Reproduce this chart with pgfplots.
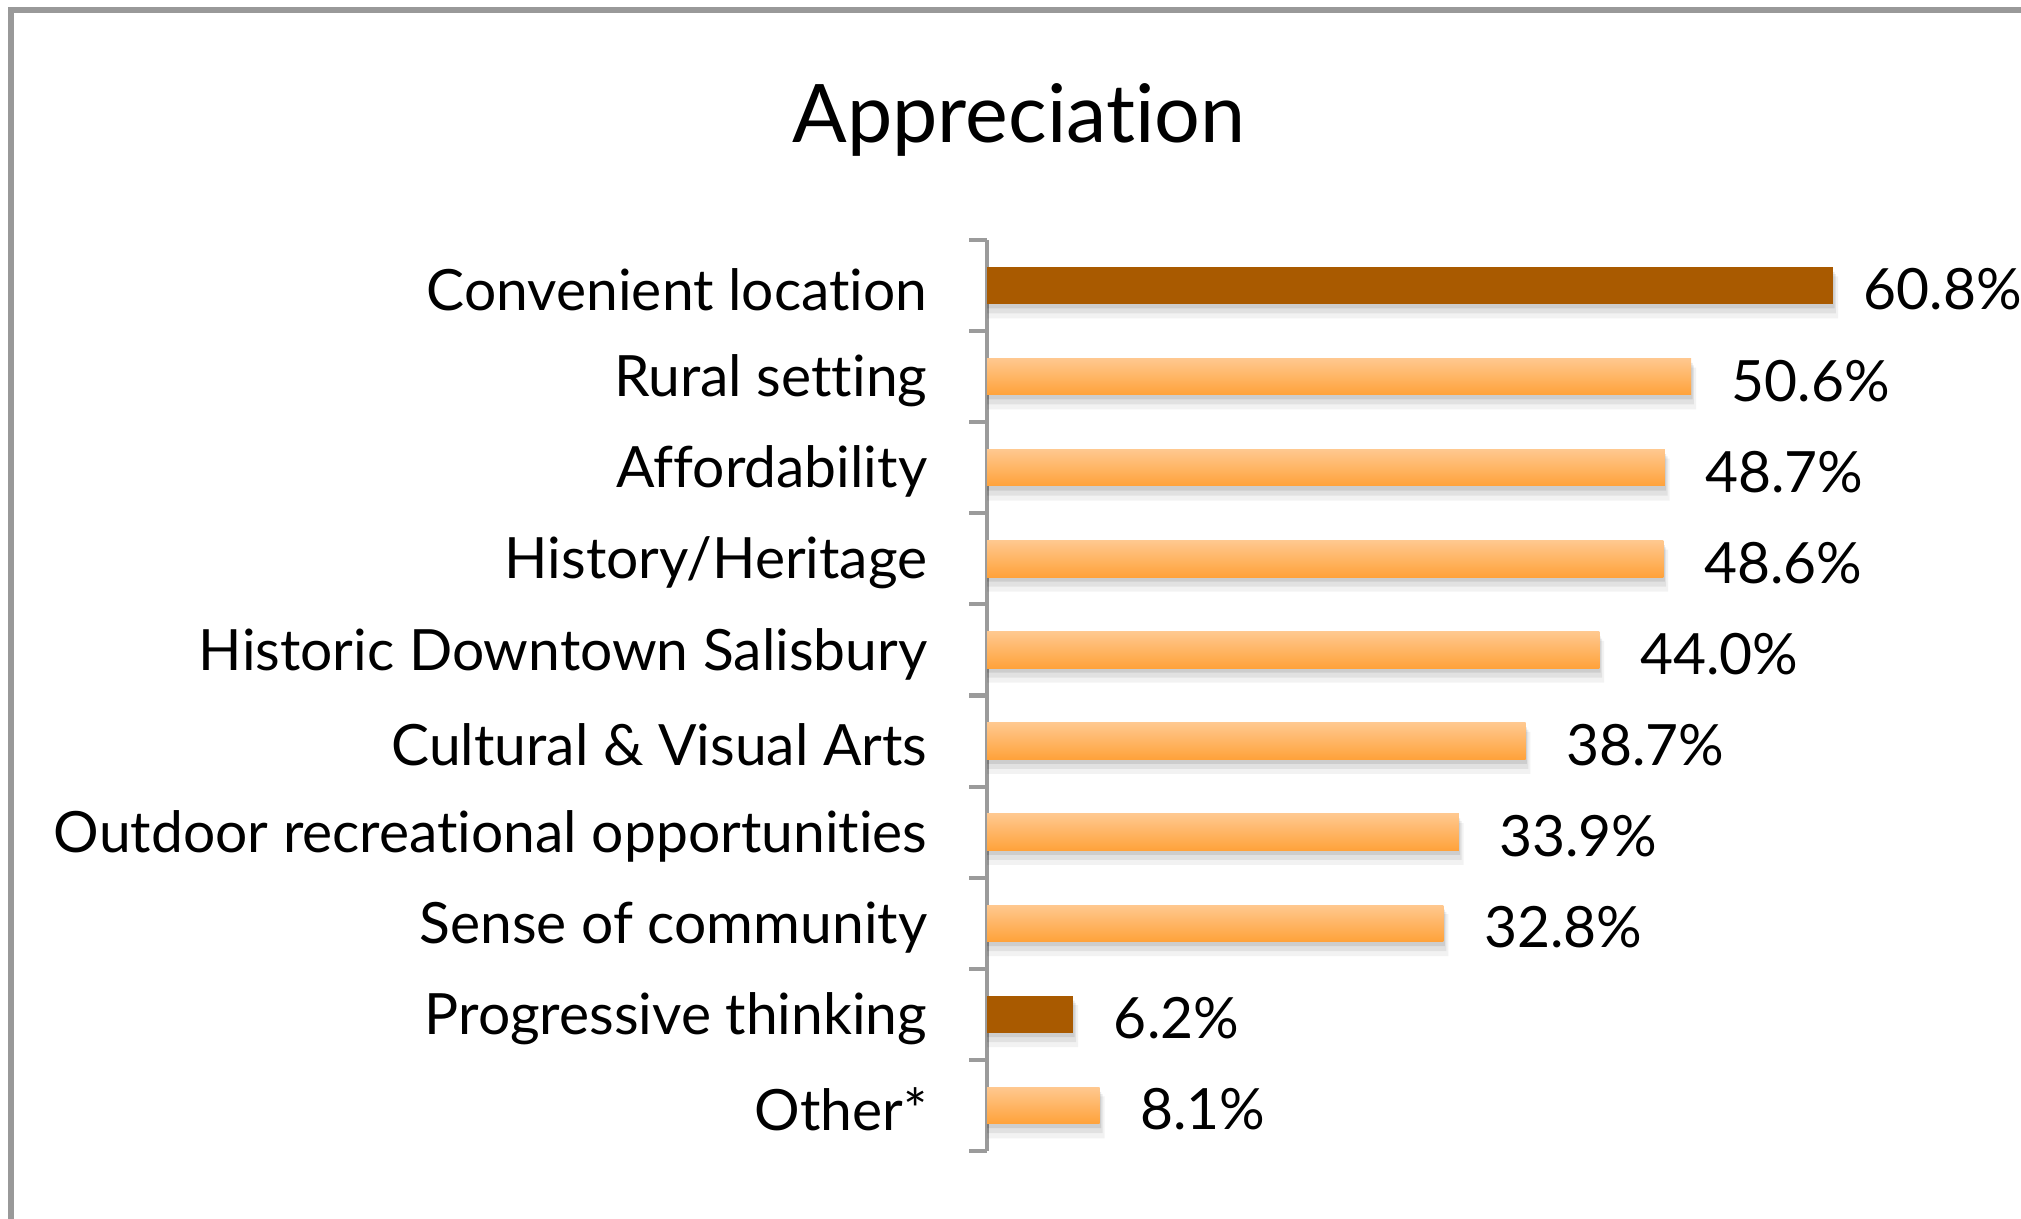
\documentclass[border=0pt]{standalone}
\usepackage{pgfplots}
\pgfplotsset{compat=1.18}
\usepackage{pgfplotstable}
\usepackage{fontspec}
\setmainfont{Lato}[Ligatures=NoCommon]
\definecolor{darkbar}{HTML}{A95A00}
\definecolor{lighttop}{HTML}{FFC88F}
\definecolor{lightbot}{HTML}{FFA23A}
\definecolor{axisgray}{HTML}{9B9B9B}
\definecolor{framegray}{HTML}{999999}

\pgfplotstableread{
idx val
0 60.8
1 50.6
2 48.7
3 48.6
4 44.0
5 38.7
6 33.9
7 32.8
8 6.2
9 8.1
}\alldata

\pgfplotsset{
  valuelabels/.style={
    point meta=x,
    nodes near coords={\pgfmathprintnumber[fixed,fixed zerofill,precision=1,assume math mode=true]{\pgfplotspointmeta}\%},
    nodes near coords style={anchor=west, inner sep=0pt, xshift=#1, yshift=-0.4mm, font=\fontsize{16.2}{19}\selectfont, text=black, opacity=1}},
  valuelabels/.default=4.0mm,
  lightbar/.style={xbar, bar width=0.4, bar shift=0, draw=none, top color=lighttop, bottom color=lightbot, valuelabels},
  darkbar/.style={xbar, bar width=0.4, bar shift=0, draw=none, fill=darkbar, valuelabels=#1},
  darkbar/.default=4.0mm,
}

\begin{document}
\begin{tikzpicture}
\useasboundingbox (0,0) rectangle (202.1mm,121.9mm);
\draw[line width=0.6mm, framegray] (1.1mm,0) -- (1.1mm,120.9mm) -- (202.1mm,120.9mm);
\node[anchor=base, inner sep=0pt, font=\fontsize{23}{27}\selectfont] at (101.9mm,107.6mm) {Appreciation};
\begin{axis}[
  at={(98.7mm,6.8mm)}, anchor=south west, scale only axis,
  width=100.2mm, height=91.1mm,
  xmin=0, xmax=72, ymin=-0.5, ymax=9.5, y dir=reverse,
  axis lines*=left,
  x axis line style={draw=none},
  xtick=\empty,
  y axis line style={draw=axisgray, line width=1.15pt},
  ytick={0,...,9},
  yticklabels={Convenient location, Rural setting, Affordability, History/Heritage, Historic Downtown Salisbury, Cultural \& Visual Arts, Outdoor recreational opportunities, Sense of community, Progressive thinking, Other*},
  major tick length=0pt,
  minor ytick={-0.5,0.5,...,9.5},
  minor tick length=1.8mm,
  tick align=outside,
  minor tick style={draw=axisgray, line width=1.15pt},
  yticklabel style={font=\fontsize{16.2}{19}\selectfont, anchor=east, inner sep=0pt, xshift=-5.9mm, yshift=-0.4mm},
  clip=false,
]
\addplot[xbar, bar width=0.46, bar shift=0, draw=none, fill=black, opacity=0.05, forget plot] table[x expr=\thisrow{val}+0.35, y expr=\thisrow{idx}+0.13]{\alldata};
\addplot[xbar, bar width=0.43, bar shift=0, draw=none, fill=black, opacity=0.07, forget plot] table[x expr=\thisrow{val}+0.2, y expr=\thisrow{idx}+0.09]{\alldata};
\addplot[xbar, bar width=0.4, bar shift=0, draw=none, fill=black, opacity=0.09, forget plot] table[x expr=\thisrow{val}+0.1, y expr=\thisrow{idx}+0.05]{\alldata};
\addplot[darkbar=3.0mm] coordinates {(60.8,0)};
\addplot[lightbar] coordinates {(50.6,1)};
\addplot[lightbar] coordinates {(48.7,2)};
\addplot[lightbar] coordinates {(48.6,3)};
\addplot[lightbar] coordinates {(44.0,4)};
\addplot[lightbar] coordinates {(38.7,5)};
\addplot[lightbar] coordinates {(33.9,6)};
\addplot[lightbar] coordinates {(32.8,7)};
\addplot[darkbar] coordinates {(6.2,8)};
\addplot[lightbar] coordinates {(8.1,9)};
\end{axis}
\end{tikzpicture}
\end{document}
